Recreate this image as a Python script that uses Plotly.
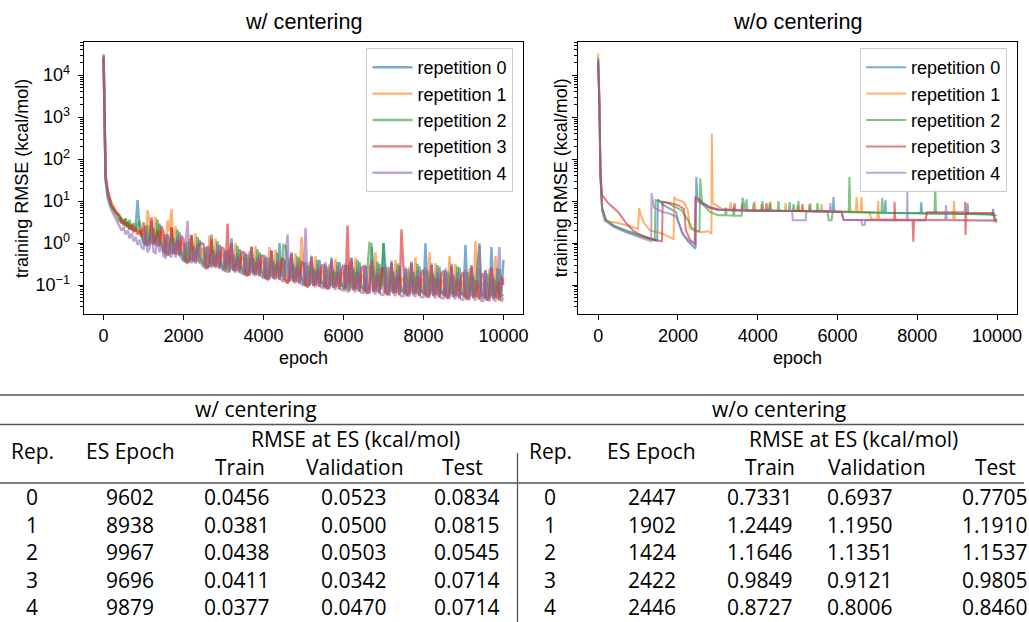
import plotly.graph_objects as go

W, H = 1029, 622

# ---------------- data: w/ centering (training RMSE, kcal/mol) ----------------
EPOCHS_W = [0, 20, 50, 100, 150, 200, 300] + list(range(400, 10001, 50))

rep0_w = [27000, 600, 35, 16, 10, 7.5, 5.5,
          4.2, 3.1, 3.6, 2.7, 3.2, 2.3, 2.6, 2.0, 2.4, 10.5, 2.0, 1.6,
          1.0, 2.6, 1.1, 0.9, 3.4, 1.0, 1.6, 0.85, 2.9, 1.2, 0.6, 1.6, 0.62, 0.52, 2.3, 0.6, 1.0, 0.53, 1.8, 0.7,
          0.37, 1.0, 0.44, 0.35, 1.5, 0.41, 0.7, 0.36, 1.2, 0.48, 0.29, 0.8, 0.34, 0.27, 1.6, 0.31, 0.52, 0.27, 0.9, 0.36,
          0.23, 0.62, 0.27, 0.21, 1.3, 0.25, 0.41, 0.22, 0.72, 0.29, 0.19, 0.55, 0.22, 0.17, 0.8, 0.2, 0.36, 0.18, 0.6, 0.24,
          0.15, 0.45, 0.18, 0.14, 0.65, 0.17, 0.3, 0.15, 1.0, 0.2, 0.13, 0.4, 0.15, 0.12, 0.6, 0.14, 0.25, 0.12, 0.45, 0.16,
          0.1, 0.35, 0.12, 0.095, 0.5, 0.11, 0.22, 0.1, 0.4, 0.13, 0.09, 0.3, 0.11, 0.085, 0.45, 0.1, 0.2, 0.09, 0.35, 0.12,
          0.08, 0.3, 0.095, 0.074, 0.45, 0.088, 0.2, 0.078, 0.35, 0.1, 0.073, 0.28, 0.086, 0.067, 0.8, 0.079, 0.18, 0.07, 0.32, 0.092,
          1.0, 0.25, 0.08, 0.062, 0.38, 0.073, 0.16, 0.065, 0.3, 0.085, 0.064, 0.24, 0.075, 0.059, 0.36, 0.07, 0.16, 0.062, 0.28, 0.081,
          0.06, 1.0, 0.07, 0.055, 0.33, 0.065, 0.15, 0.057, 0.27, 0.076, 0.056, 0.22, 0.066, 0.052, 0.32, 0.061, 0.14, 0.054, 0.26, 0.071,
          0.053, 0.9, 0.062, 0.049, 0.3, 0.058, 0.13, 0.05, 0.25, 0.067, 0.05, 0.22, 0.059, 0.046, 0.8, 0.054, 0.13, 0.047, 0.24, 0.063,
          0.4]
rep1_w = [30000, 900, 45, 20, 12, 9, 6,
          4.6, 3.4, 3.0, 3.8, 2.6, 2.9, 2.2, 2.5, 1.9, 2.2, 1.6, 2.0,
          2.1, 0.94, 6.0, 3.2, 1.1, 0.94, 4.2, 1.0, 0.85, 1.9, 1.25, 0.55, 3.5, 1.9, 6.5, 0.55, 2.5, 0.6, 0.5, 1.1,
          0.85, 0.36, 0.33, 1.3, 0.43, 0.36, 1.7, 0.4, 0.33, 0.75, 0.65, 0.28, 0.25, 1.5, 0.33, 0.28, 1.3, 0.3, 0.25, 0.57,
          0.51, 0.22, 0.2, 0.78, 0.26, 0.22, 1.0, 0.24, 0.2, 0.45, 0.43, 0.18, 0.165, 0.65, 0.21, 0.18, 0.85, 0.19, 0.165, 0.37,
          0.35, 0.145, 0.135, 0.8, 0.17, 0.145, 0.7, 0.16, 0.135, 0.31, 0.29, 0.12, 0.11, 0.44, 0.14, 0.12, 0.58, 0.13, 0.11, 1.4,
          0.24, 0.097, 0.092, 0.36, 0.115, 0.097, 0.48, 0.105, 0.092, 0.21, 0.21, 0.087, 0.08, 0.32, 0.105, 0.087, 0.42, 0.096, 0.08, 0.18,
          0.2, 0.075, 0.07, 0.35, 0.09, 0.076, 0.45, 0.084, 0.07, 0.16, 0.17, 0.069, 0.063, 0.3, 0.082, 0.069, 0.6, 0.075, 0.063, 0.15,
          0.16, 0.064, 0.058, 0.28, 0.075, 0.064, 0.4, 0.07, 0.058, 0.14, 0.15, 0.061, 0.055, 0.27, 0.071, 0.061, 0.45, 0.066, 0.055, 0.13,
          0.14, 0.056, 0.052, 0.6, 0.066, 0.056, 0.33, 0.062, 0.052, 0.12, 0.13, 0.053, 0.049, 0.5, 0.063, 0.053, 0.32, 0.058, 0.049, 0.11,
          0.12, 0.05, 0.046, 0.25, 0.059, 0.05, 1.1, 0.055, 0.046, 0.11, 0.11, 0.048, 0.043, 0.24, 0.056, 0.048, 0.5, 0.052, 0.043, 0.1,
          0.15]
rep2_w = [25000, 500, 30, 12, 9, 7, 5,
          3.2, 4.2, 2.6, 3.9, 2.3, 3.6, 2.1, 3.0, 1.9, 2.7, 3.4, 1.5,
          1.0, 0.88, 2.7, 1.2, 0.95, 2.2, 0.87, 3.6, 1.1, 0.95, 0.62, 0.52, 1.6, 0.72, 0.56, 1.3, 0.52, 2.1, 0.66, 0.56,
          0.42, 0.35, 1.1, 0.49, 0.38, 0.88, 0.35, 1.4, 0.45, 0.38, 0.32, 0.27, 0.83, 0.37, 0.3, 0.68, 0.27, 1.1, 0.35, 0.3,
          0.26, 0.21, 0.66, 0.3, 0.24, 0.53, 0.21, 0.86, 0.28, 0.24, 0.21, 0.175, 0.54, 0.25, 0.2, 0.44, 0.175, 0.71, 0.23, 0.2,
          0.18, 0.145, 0.45, 0.21, 0.16, 0.36, 0.145, 0.59, 0.19, 0.16, 0.9, 0.85, 0.37, 0.17, 0.14, 0.3, 0.12, 0.48, 0.16, 0.14,
          0.12, 0.1, 0.3, 0.14, 0.11, 0.25, 0.1, 0.4, 0.13, 0.11, 0.11, 0.088, 0.27, 0.13, 0.096, 0.22, 0.088, 0.35, 0.12, 0.096,
          0.095, 0.078, 0.3, 0.11, 0.085, 0.25, 0.078, 0.4, 0.1, 0.085, 0.085, 0.07, 0.28, 1.0, 0.95, 0.22, 0.07, 0.36, 0.09, 0.077,
          1.0, 0.065, 0.26, 0.09, 0.071, 0.21, 0.065, 0.33, 0.084, 0.071, 0.075, 0.062, 0.24, 0.086, 0.068, 0.2, 0.062, 0.32, 0.08, 0.068,
          0.07, 0.058, 0.22, 0.081, 0.063, 0.18, 0.058, 0.3, 0.075, 0.063, 0.066, 0.055, 0.21, 0.076, 0.06, 0.17, 0.055, 0.28, 0.071, 0.06,
          0.063, 0.052, 0.2, 0.072, 0.057, 0.16, 0.052, 0.26, 0.9, 0.057, 0.06, 0.05, 0.19, 0.068, 0.054, 0.15, 0.05, 0.25, 0.064, 0.054,
          0.06]
rep3_w = [28000, 700, 40, 18, 11, 8, 5.5,
          4.4, 2.9, 3.4, 2.5, 3.0, 2.1, 2.7, 1.8, 2.3, 1.6, 2.0, 1.4,
          3.1, 1.0, 0.85, 1.3, 4.1, 0.94, 1.1, 2.0, 0.85, 2.55, 1.8, 0.6, 0.5, 0.75, 2.4, 0.55, 0.65, 1.2, 0.5, 1.5,
          1.2, 0.4, 0.33, 0.5, 1.6, 0.36, 0.43, 0.82, 0.9, 1.0, 0.94, 0.3, 0.25, 0.38, 1.25, 0.28, 0.33, 0.62, 0.25, 0.78,
          0.74, 0.25, 2.9, 0.3, 0.98, 0.22, 0.26, 0.49, 0.2, 0.62, 0.61, 0.19, 0.165, 0.25, 0.82, 0.18, 0.21, 0.41, 0.165, 0.51,
          0.5, 0.16, 0.135, 0.2, 0.67, 0.145, 0.17, 0.34, 0.135, 0.42, 0.41, 0.135, 0.11, 0.16, 0.55, 0.12, 0.14, 0.28, 0.11, 0.35,
          0.34, 0.105, 0.09, 0.135, 0.46, 0.097, 0.115, 0.23, 0.09, 0.29, 0.3, 0.095, 0.08, 0.115, 0.4, 0.087, 0.105, 0.2, 0.08, 0.25,
          0.3, 0.085, 2.6, 0.105, 0.42, 0.077, 0.09, 0.2, 0.07, 0.26, 0.28, 0.076, 0.063, 0.095, 0.38, 0.07, 0.082, 0.18, 0.063, 0.24,
          0.26, 0.07, 0.058, 0.088, 0.34, 0.064, 0.076, 0.17, 0.058, 2.1, 0.25, 0.067, 0.055, 0.083, 0.33, 0.061, 0.072, 0.16, 0.055, 0.2,
          0.23, 0.062, 0.051, 0.077, 0.3, 0.056, 0.066, 0.15, 0.051, 0.19, 0.22, 0.058, 0.048, 0.073, 0.28, 0.053, 0.062, 0.14, 0.048, 0.18,
          0.2, 0.055, 0.045, 0.068, 0.27, 0.05, 0.059, 0.13, 0.045, 0.17, 0.19, 0.052, 0.043, 0.065, 0.26, 0.048, 0.056, 0.12, 0.043, 0.16,
          0.1]
rep4_w = [32000, 600, 35, 14, 8, 6, 4,
          2.6, 2.0, 2.4, 1.6, 2.0, 1.3, 1.7, 1.1, 1.4, 0.9, 1.2, 0.8,
          0.7, 1.9, 0.6, 0.75, 2.2, 0.62, 0.58, 1.5, 0.6, 1.0, 0.48, 0.45, 1.6, 0.52, 0.46, 1.1, 0.45, 1.5, 0.5, 0.44,
          0.38, 0.9, 3.4, 0.4, 0.33, 0.7, 0.32, 1.0, 0.36, 0.32, 0.27, 0.25, 0.85, 0.3, 0.26, 0.6, 0.25, 0.9, 0.28, 0.25,
          0.22, 0.7, 0.24, 0.2, 0.9, 0.23, 0.2, 0.55, 0.21, 0.19, 0.18, 0.6, 0.2, 0.17, 0.7, 0.19, 0.165, 0.45, 0.18, 0.16,
          0.15, 0.5, 0.16, 0.14, 0.6, 0.15, 0.135, 0.4, 0.15, 0.13, 0.12, 0.45, 1.6, 0.12, 0.5, 0.13, 0.11, 0.35, 0.12, 0.105,
          0.1, 2.3, 0.11, 0.095, 0.42, 0.1, 0.09, 0.3, 0.1, 0.088, 0.085, 0.35, 0.095, 0.08, 0.4, 0.09, 0.078, 0.28, 0.085, 0.076,
          0.074, 0.33, 0.083, 0.07, 0.38, 0.08, 0.068, 0.26, 0.075, 0.066, 0.065, 0.3, 0.075, 0.062, 0.35, 0.07, 0.06, 0.24, 0.068, 0.059,
          0.058, 0.28, 0.066, 0.056, 0.34, 0.064, 0.055, 0.23, 0.062, 0.054, 0.054, 0.27, 0.063, 0.053, 0.32, 0.06, 0.052, 0.22, 0.058, 0.051,
          0.051, 0.26, 0.058, 0.05, 0.3, 0.056, 0.049, 0.21, 0.055, 0.048, 0.048, 0.25, 0.055, 0.047, 0.28, 0.053, 0.046, 0.2, 0.052, 0.045,
          0.045, 0.24, 0.052, 0.044, 0.27, 0.05, 0.043, 0.19, 1.0, 0.042, 0.042, 0.23, 0.05, 0.041, 0.26, 0.047, 0.041, 0.18, 0.8, 0.04,
          0.05]

# ---------------- data: w/o centering ----------------
ep0_wo = [0, 30, 60, 100, 200, 400, 700, 1000, 1300, 1480,
          1500, 1600, 1750, 1950, 2000, 2100, 2250, 2440, 2460, 2490,
          2600, 2800, 3000, 3500, 3880, 3900, 3920, 4500, 4880, 4900,
          4920, 5500, 5880, 5900, 5920, 6200, 6500, 7180, 7200, 7220,
          7600, 8080, 8100, 8120, 8700, 9240, 9260, 9280, 9700, 9880,
          9900, 9920, 10000]
rep0_wo = [24000, 3000, 40, 7, 3.6, 2.6, 2.0, 1.6, 1.3, 1.15,
           11, 8.5, 7.0, 5.5, 3.5, 1.8, 1.1, 0.73, 38, 12,
           9.5, 7.2, 6.4, 6.1, 6.0, 9, 6.0, 5.9, 5.8, 8.5,
           5.8, 5.7, 5.6, 12.5, 5.6, 5.5, 5.4, 5.3, 10.5, 5.3,
           5.2, 5.1, 9.5, 5.1, 5.0, 4.9, 9.0, 4.9, 4.8, 4.7,
           6.5, 4.7, 4.5]
ep1_wo = [0, 30, 60, 100, 150, 300, 500, 800, 1000, 1030,
          1060, 1150, 1300, 1600, 1890, 1910, 1950, 2150, 2250, 2300,
          2450, 2600, 2750, 2840, 2850, 2870, 2950, 3100, 3300, 3320,
          3340, 3580, 3600, 3620, 3900, 3920, 3940, 4080, 4100, 4120,
          4300, 4320, 4340, 4680, 4700, 4720, 4980, 5000, 5020, 5300,
          5320, 5340, 5580, 5600, 5620, 6000, 6460, 6480, 6500, 6580,
          6600, 6620, 6800, 6850, 7000, 7020, 7040, 8000, 8900, 8920,
          8940, 9500, 10000]
rep1_wo = [33000, 4000, 60, 6, 3.4, 3.2, 3.0, 2.5, 2.2, 6.8,
           5.0, 3.0, 2.0, 1.7, 1.24, 12.5, 11, 9.5, 6.0, 2.2,
           1.9, 1.8, 1.9, 1.7, 400, 9, 8, 6.5, 6.2, 9.5,
           6.2, 6.1, 8, 6.1, 6.0, 10, 6.0, 6.0, 8.5, 6.0,
           5.9, 10, 5.9, 5.9, 9, 5.9, 5.8, 8, 5.8, 5.8,
           9, 5.8, 5.8, 8.5, 5.8, 5.7, 5.6, 12.5, 5.6, 5.6,
           12.5, 5.5, 5.4, 3.7, 3.7, 10, 3.7, 3.6, 3.6, 10,
           3.6, 3.5, 3.5]
ep2_wo = [0, 30, 60, 100, 200, 400, 700, 1000, 1250, 1420,
          1440, 1600, 1750, 1900, 2100, 2250, 2350, 2450, 2540, 2560,
          2600, 2800, 3000, 3180, 3200, 3220, 3380, 3400, 3420, 3600,
          3620, 3700, 3720, 3740, 4100, 4120, 4140, 4280, 4300, 4320,
          4500, 4520, 4540, 4780, 4800, 4820, 5000, 5020, 5040, 5280,
          5300, 5320, 5480, 5500, 5520, 5750, 5780, 5850, 5880, 6280,
          6300, 6320, 6800, 7100, 7120, 7140, 8000, 8430, 8450, 8470,
          9000, 9900, 9950, 10000]
rep2_wo = [22000, 2500, 35, 6.5, 3.4, 2.5, 1.9, 1.5, 1.3, 1.16,
           10.5, 9.5, 9.0, 7.5, 6.0, 3.5, 2.3, 2.0, 1.9, 35,
           9.0, 5.5, 4.6, 4.6, 7, 4.6, 4.5, 7, 4.5, 4.5,
           12, 6.0, 11, 6.0, 5.9, 10, 5.9, 5.9, 9, 5.9,
           5.8, 10, 5.8, 5.8, 9.5, 5.8, 5.8, 10, 5.8, 5.8,
           8.5, 5.8, 5.7, 9, 5.7, 5.7, 3.5, 3.5, 5.6, 5.5,
           38, 5.5, 5.4, 5.3, 12, 5.3, 5.2, 5.1, 20, 5.1,
           5.0, 4.9, 3.7, 3.6]
ep3_wo = [0, 30, 60, 100, 250, 500, 700, 900, 1100, 1300,
          1600, 1620, 1800, 2000, 2150, 2200, 2300, 2422, 2435, 2600,
          2800, 3000, 3400, 3420, 3440, 4200, 4220, 4240, 5100, 5120,
          5140, 6100, 6150, 7420, 7430, 7450, 7880, 7900, 7920, 8200,
          8250, 9190, 9200, 9210, 9230, 9900, 9950, 10000]
rep3_wo = [20000, 2000, 40, 14, 9, 5.5, 3.0, 1.9, 1.5, 1.25,
           1.1, 9.6, 9.0, 8.0, 6.5, 2.0, 1.2, 0.98, 12.5, 9.0,
           7.0, 6.2, 6.0, 9, 6.0, 5.9, 9, 5.9, 5.8, 8.5,
           5.8, 5.6, 3.6, 3.5, 9.6, 3.5, 3.5, 1.07, 3.5, 3.5,
           5.4, 5.4, 9.6, 1.55, 5.3, 5.2, 3.3, 3.2]
ep4_wo = [0, 30, 60, 100, 200, 400, 700, 1000, 1330, 1340,
          1400, 1600, 1800, 1950, 2050, 2150, 2300, 2446, 2455, 2600,
          2800, 3000, 3600, 3620, 3640, 4000, 4860, 4880, 5200, 5220,
          5800, 5820, 5840, 6100, 6150, 6600, 6620, 6680, 6700, 7740,
          7750, 7760, 8700, 8720, 8740, 10000]
rep4_wo = [26000, 2500, 35, 6, 3.3, 2.4, 1.8, 1.4, 1.1, 15.5,
           7, 5.6, 5.0, 4.3, 2.5, 1.5, 1.1, 0.87, 10.5, 8.5,
           6.8, 6.2, 6.0, 9, 6.0, 5.9, 5.8, 3.5, 3.5, 5.7,
           5.6, 9, 5.6, 5.5, 3.6, 3.5, 2.7, 2.7, 3.5, 3.5,
           16.5, 3.5, 3.5, 8, 3.5, 3.4]

SERIES_NAMES = ["repetition 0", "repetition 1", "repetition 2", "repetition 3", "repetition 4"]
COLORS = ["#1f77b4", "#ff7f0e", "#2ca02c", "#d62728", "#9467bd"]
X_TICKS = [0, 2000, 4000, 6000, 8000, 10000]
Y_DECADES = [-1, 0, 1, 2, 3, 4]

# ---------------- data: table ----------------
TABLE_REPS = [0, 1, 2, 3, 4]
W_ES_EPOCH = [9602, 8938, 9967, 9696, 9879]
W_TRAIN = [0.0456, 0.0381, 0.0438, 0.0411, 0.0377]
W_VAL = [0.0523, 0.0500, 0.0503, 0.0342, 0.0470]
W_TEST = [0.0834, 0.0815, 0.0545, 0.0714, 0.0714]
WO_ES_EPOCH = [2447, 1902, 1424, 2422, 2446]
WO_TRAIN = [0.7331, 1.2449, 1.1646, 0.9849, 0.8727]
WO_VAL = [0.6937, 1.1950, 1.1351, 0.9121, 0.8006]
WO_TEST = [0.7705, 1.1910, 1.1537, 0.9805, 0.8460]

for s in (rep0_w, rep1_w, rep2_w, rep3_w, rep4_w):
    assert len(s) == len(EPOCHS_W), len(s)
for e, s in ((ep0_wo, rep0_wo), (ep1_wo, rep1_wo), (ep2_wo, rep2_wo),
             (ep3_wo, rep3_wo), (ep4_wo, rep4_wo)):
    assert len(e) == len(s), (len(e), len(s))


def px(x):
    return x / W


def py(y):
    return 1 - y / H


fig = go.Figure()

w_series = [rep0_w, rep1_w, rep2_w, rep3_w, rep4_w]
for name, col, vals in zip(SERIES_NAMES, COLORS, w_series):
    fig.add_trace(go.Scatter(x=EPOCHS_W, y=vals, mode="lines", name=name,
                             line=dict(color=col, width=2.4), opacity=0.6,
                             xaxis="x", yaxis="y", legend="legend"))

wo_eps = [ep0_wo, ep1_wo, ep2_wo, ep3_wo, ep4_wo]
wo_series = [rep0_wo, rep1_wo, rep2_wo, rep3_wo, rep4_wo]
for name, col, eps, vals in zip(SERIES_NAMES, COLORS, wo_eps, wo_series):
    fig.add_trace(go.Scatter(x=eps, y=vals, mode="lines", name=name,
                             line=dict(color=col, width=2), opacity=0.6,
                             xaxis="x2", yaxis="y2", legend="legend2"))

FONT = "Liberation Sans, Arial, sans-serif"
TFONT = "Open Sans, Noto Sans, sans-serif"

y_tickvals = [10.0 ** d for d in Y_DECADES]
y_ticktext = ["10<sup>%s</sup>" % (("\u2212%d" % -d) if d < 0 else str(d)) for d in Y_DECADES]
y_minor = [m * 10.0 ** d for d in range(-2, 5) for m in range(2, 10)]

xcommon = dict(range=[-500, 10500], tickmode="array", tickvals=X_TICKS,
               ticktext=[str(v) for v in X_TICKS], ticks="outside", ticklen=5,
               tickwidth=1.1, tickcolor="black", showline=True, mirror=True,
               linecolor="black", linewidth=1.1, showgrid=False, zeroline=False,
               tickfont=dict(family=FONT, size=18, color="black"))
ycommon = dict(type="log", range=[-1.69, 4.79], tickmode="array", tickvals=y_tickvals,
               ticktext=y_ticktext, ticks="outside", ticklen=5, tickwidth=1.1,
               tickcolor="black", showline=True, mirror=True, linecolor="black",
               linewidth=1.1, showgrid=False, zeroline=False, ticklabelstandoff=4,
               minor=dict(tickmode="array", tickvals=y_minor, ticks="outside", ticklen=3,
                          tickwidth=0.8, tickcolor="black", showgrid=False),
               tickfont=dict(family=FONT, size=18, color="black"))

legcommon = dict(font=dict(family=FONT, size=18, color="black"),
                 bgcolor="rgba(255,255,255,0.8)", bordercolor="#cccccc",
                 borderwidth=1, xanchor="right", yanchor="top", itemwidth=40)

fig.update_layout(
    width=W, height=H,
    margin=dict(l=0, r=0, t=0, b=0),
    paper_bgcolor="white", plot_bgcolor="white",
    xaxis=dict(domain=[px(84), px(526)], anchor="y", **xcommon),
    yaxis=dict(domain=[py(314), py(42)], anchor="x", **ycommon),
    xaxis2=dict(domain=[px(581), px(1022)], anchor="y2", **xcommon),
    yaxis2=dict(domain=[py(314), py(42)], anchor="x2", showticklabels=False, **ycommon),
    legend=dict(x=px(516), y=py(48), **legcommon),
    legend2=dict(x=px(1012), y=py(48), **legcommon),
)

ann = []
for cx, title in [(305, "w/ centering"), (801.5, "w/o centering")]:
    ann.append(dict(x=px(cx), y=py(22), text=title, showarrow=False,
                    font=dict(family=FONT, size=21.6, color="black"),
                    xref="paper", yref="paper", xanchor="center", yanchor="middle"))
    ann.append(dict(x=px(cx), y=py(358), text="epoch", showarrow=False,
                    font=dict(family=FONT, size=18, color="black"),
                    xref="paper", yref="paper", xanchor="center", yanchor="middle"))
for cx in [22, 564]:
    ann.append(dict(x=px(cx), y=py(178), text="training RMSE (kcal/mol)", showarrow=False,
                    textangle=-90, font=dict(family=FONT, size=18, color="black"),
                    xref="paper", yref="paper", xanchor="center", yanchor="middle"))

tfont = dict(family=TFONT, size=21, color="black")


def tadd(x, y, text):
    ann.append(dict(x=px(x), y=py(y), text=text, showarrow=False, font=tfont,
                    xref="paper", yref="paper", xanchor="center", yanchor="middle"))


ROW_Y = [497, 524.5, 552, 579.5, 607]

tables = [
    dict(group="w/ centering", gx=257, rx=32.5, ex=131, rmx=357,
         hx=[241.5, 356.5, 465], vx=[238, 356, 469],
         es=W_ES_EPOCH, tr=W_TRAIN, va=W_VAL, te=W_TEST),
    dict(group="w/o centering", gx=782.5, rx=553, ex=655, rmx=857.5,
         hx=[774, 881.5, 1000], vx=[764, 864, 1000],
         es=WO_ES_EPOCH, tr=WO_TRAIN, va=WO_VAL, te=WO_TEST),
]
for t in tables:
    tadd(t["gx"], 409, t["group"])
    tadd(t["rmx"], 439, "RMSE at ES (kcal/mol)")
    tadd(t["rx"], 451, "Rep.")
    tadd(t["ex"], 451, "ES Epoch")
    for hx, h in zip(t["hx"], ["Train", "Validation", "Test"]):
        tadd(hx, 467, h)
    for i, ry in enumerate(ROW_Y):
        tadd(t["rx"], ry, str(TABLE_REPS[i]))
        tadd(t["ex"], ry, str(t["es"][i]))
        tadd(t["vx"][0], ry, f"{t['tr'][i]:.4f}")
        tadd(t["vx"][1], ry, f"{t['va'][i]:.4f}")
        tadd(t["vx"][2], ry, f"{t['te'][i]:.4f}")

fig.update_layout(annotations=ann)

shapes = [
    dict(type="line", xref="paper", yref="paper", x0=0, x1=1, y0=py(395), y1=py(395),
         line=dict(color="#555555", width=1.6)),
    dict(type="line", xref="paper", yref="paper", x0=0, x1=1, y0=py(424.5), y1=py(424.5),
         line=dict(color="#555555", width=1.3)),
    dict(type="line", xref="paper", yref="paper", x0=0, x1=1, y0=py(483), y1=py(483),
         line=dict(color="#555555", width=1.3)),
    dict(type="line", xref="paper", yref="paper", x0=px(520), x1=px(520), y0=py(453), y1=0,
         line=dict(color="#555555", width=1.3)),
]
fig.update_layout(shapes=shapes)

fig.write_html("out.html", config={"displayModeBar": False},
               post_script="document.body.style.margin='0px';document.body.style.overflow='hidden';")
